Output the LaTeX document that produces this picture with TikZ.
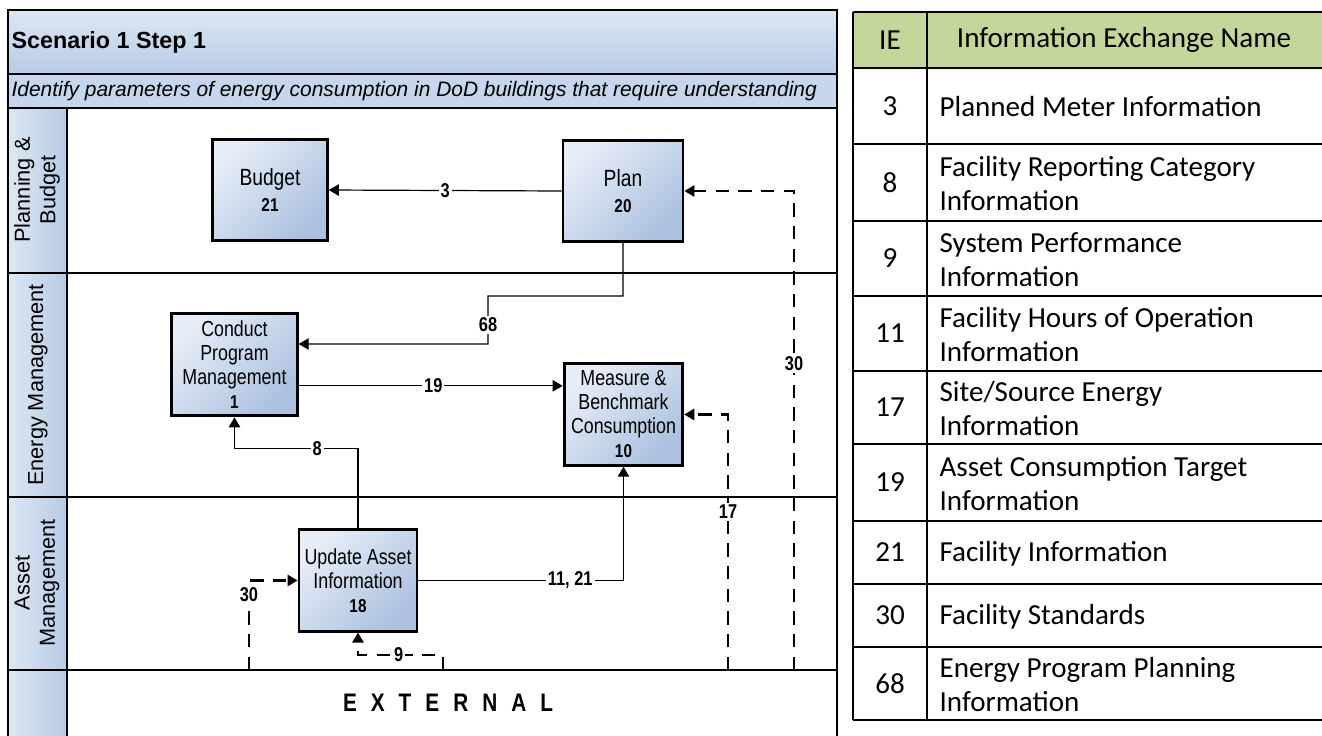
\documentclass[tikz,border=0pt]{standalone}
\usepackage{fontspec}
\usepackage{xcolor}
\usepackage{tikz}
\usetikzlibrary{arrows.meta,calc}
\setmainfont{Liberation Sans}
\newfontfamily\narrowfont[FakeStretch=0.82]{Liberation Sans}
\newfontfamily\tablefont{Carlito}
\definecolor{boxlight}{HTML}{E6EDF7}
\definecolor{boxdark}{HTML}{ACC1DF}
\definecolor{bandlight}{HTML}{DDE7F3}
\definecolor{banddark}{HTML}{B7CBE5}
\definecolor{subband}{HTML}{C6D6EC}
\definecolor{tablehead}{HTML}{C4D79B}
\newcommand{\procnum}[1]{{\bfseries\fontsize{14}{16}\selectfont #1}}

\begin{document}
\begin{tikzpicture}[
    x=0.75pt, y=-0.75pt,
    every node/.style={inner sep=1pt},
    proc/.style={rectangle, draw=black, line width=2.2pt, top color=boxlight, bottom color=boxdark,
                 shading angle=45, align=center, minimum width=88pt, minimum height=76pt,
                 font=\narrowfont\fontsize{16.3}{18}\selectfont},
    bigproc/.style={proc, font=\narrowfont\fontsize{17.6}{20}\selectfont},
    flow/.style={->, >={Triangle[length=7.5pt,width=8.5pt]}, line width=0.9pt},
    dflow/.style={flow, line width=1.6pt, dash pattern=on 10pt off 7pt},
    lbl/.style={fill=white, font=\narrowfont\bfseries\fontsize{15}{16}\selectfont, inner sep=1.5pt},
    lanecell/.style={left color=bandlight, right color=banddark, draw=none},
    lanename/.style={rotate=90, align=center, font=\fontsize{16.3}{19}\selectfont},
    tline/.style={line width=1.5pt},
    tnum/.style={font=\tablefont\fontsize{21.8}{26}\selectfont},
    ttxt/.style={anchor=west, align=left, font=\tablefont\fontsize{21.8}{26}\selectfont}
]
    \useasboundingbox (0,0) rectangle (1322,736);

    % swimlane frame
    \shade[top color=bandlight, bottom color=banddark] (8,10) rectangle (837,74);
    \fill[subband] (8,74) rectangle (837,108);
    \foreach \ya/\yb in {108/273, 273/497, 497/670, 670/736}
        \shade[lanecell] (8,\ya) rectangle (67,\yb);
    \draw[line width=1.5pt] (8,74) -- (837,74) (8,108) -- (837,108);
    \draw[line width=2.2pt] (67,108) -- (67,736);
    \foreach \y in {273, 497, 670}
        \draw[line width=2.2pt] (8,\y) -- (837,\y);
    \draw[line width=2.2pt] (8,736) -- (8,10) -- (837,10) -- (837,736);

    \node[anchor=west, font=\bfseries\fontsize{17.5}{20}\selectfont] (title) at (10,42) {Scenario 1 Step 1};
    \node[anchor=west, font=\itshape\fontsize{15.7}{18}\selectfont] (subtitle) at (10,91)
        {Identify parameters of energy consumption in DoD buildings that require understanding};

    \node[lanename] (lanepb) at (37,190) {Planning \&\\Budget};
    \node[lanename] (laneem) at (38,385) {Energy Management};
    \node[lanename] (laneam) at (37,583) {Asset\\Management};
    \node[font=\narrowfont\bfseries\fontsize{19}{20}\selectfont] (external) at (448,703)
        {E\hspace{10.5pt}X\hspace{10.5pt}T\hspace{10.5pt}E\hspace{10.5pt}R\hspace{10.5pt}N\hspace{10.5pt}A\hspace{10.5pt}L};

    % activities
    \node[bigproc, minimum width=86pt] (budget) at (270,190) {Budget\\\procnum{21}};
    \node[bigproc, minimum width=90pt] (plan) at (623,191) {Plan\\\procnum{20}};
    \node[proc, minimum width=94pt, minimum height=77pt] (conduct) at (234.5,364.5)
        {Conduct\\Program\\Management\\\procnum{1}};
    \node[proc, minimum width=89pt] (measure) at (623.5,414.5)
        {Measure \&\\Benchmark\\Consumption\\\procnum{10}};
    \node[proc, minimum width=88.5pt] (update) at (358,580.5)
        {Update Asset\\Information\\\procnum{18}};

    \coordinate (ext1) at (249,670);
    \coordinate (ext2) at (443,670);
    \coordinate (ext3) at (728,670);
    \coordinate (ext4) at (794,670);

    % exchanges
    \draw[flow] (plan.west) -- node[lbl] {3} (budget.east);
    \draw[flow] (plan.south) |- (488,296) -- node[lbl, pos=0.6] {68} (488,344) -- ([yshift=15.4pt]conduct.east);
    \draw[flow] ([yshift=-16pt]conduct.east) -- node[lbl, pos=0.51] {19} ([yshift=-16pt]conduct.east -| measure.west);
    \draw[flow] (update.north) -- ++(0,-80) -| node[lbl, pos=0.165] {8} (conduct.south);
    \draw[flow] (update.east) -| node[lbl, pos=0.37] {11, 21} (measure.south);
    \draw[dflow] (ext1) |- node[lbl, pos=0.42] {30} (update.west);
    \draw[dflow] (ext2) -- ++(0,-15) -| node[lbl, pos=0.26] {9} (update.south);
    \draw[dflow] (ext3) |- node[lbl, pos=0.31] {17} (measure.east);
    \draw[dflow] (ext4) |- node[lbl, pos=0.32] {30} (plan.east);

    % exchange table
    \fill[tablehead] (853,12) rectangle (1322,68);
    \node[tnum] (iehead) at (890,40) {IE};
    \node[tnum] (namehead) at (1124,40) {Information Exchange Name};
    \draw[tline] (853,12) -- (1322,12) (853,68) -- (1322,68);
    \draw[tline] (853,12) -- (853,720) (927,12) -- (927,720);
    \foreach \ie/\txt/\ya/\yb in {
        3/{Planned Meter Information}/68/144,
        8/{Facility Reporting Category\\Information}/144/221,
        9/{System Performance\\Information}/221/296,
        11/{Facility Hours of Operation\\Information}/296/371,
        17/{Site/Source Energy\\Information}/371/444,
        19/{Asset Consumption Target\\Information}/444/521,
        21/{Facility Information}/521/584,
        30/{Facility Standards}/584/647,
        68/{Energy Program Planning\\Information}/647/720}
    {
        \draw[tline] (853,\yb) -- (1322,\yb);
        \node[tnum] (ie\ie) at (890,{(\ya+\yb)/2}) {\ie};
        \node[ttxt] (name\ie) at (938,{(\ya+\yb)/2+1}) {\txt};
    }
\end{tikzpicture}
\end{document}
